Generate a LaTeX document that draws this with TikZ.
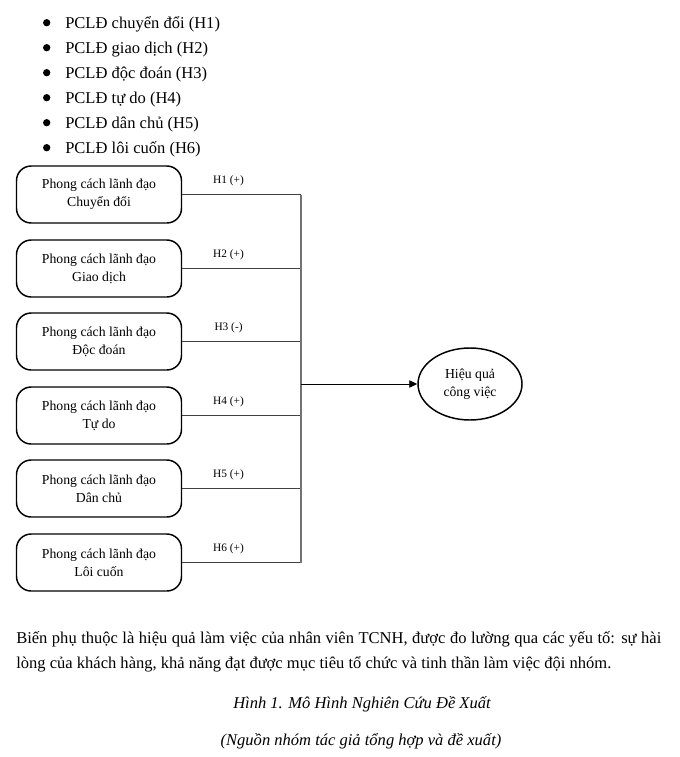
\documentclass[tikz,border=0pt]{standalone}
\usepackage{fontspec}
\setmainfont{Liberation Serif}
\usetikzlibrary{positioning,shapes,arrows.meta}

\begin{document}
\begin{tikzpicture}[x=0.75pt,y=-0.75pt,
                     lead node/.style={draw,line width=1.1pt,rounded corners=11pt,minimum width=123.75pt,minimum height=42.75pt,align=center,font=\fontsize{10.3}{13.5}\selectfont},
                     result node/.style={ellipse,draw,line width=1.1pt,minimum width=78pt,minimum height=54pt,align=center,inner sep=1pt,font=\fontsize{10.3}{13.5}\selectfont},
                     item dot/.style={circle,fill,inner sep=0pt,minimum size=5.5pt},
                     item text/.style={anchor=base west,inner sep=0pt,font=\fontsize{12.4}{15}\selectfont},
                     body text/.style={anchor=base west,inner sep=0pt,font=\fontsize{12.4}{15}\selectfont},
                     link/.style={draw=black!75,line width=0.6pt},
                     hyp/.style={above,pos=0.39,yshift=2.5pt,font=\fontsize{8.5}{10}\selectfont}
                    ]
   \useasboundingbox (0,0) rectangle (680,757);
   % list of factors
   \node[item dot] (d1) at (46.7,22.7) {};
   \node[item dot] (d2) at (46.7,47.7) {};
   \node[item dot] (d3) at (46.7,72.7) {};
   \node[item dot] (d4) at (46.7,97.7) {};
   \node[item dot] (d5) at (46.7,122.7) {};
   \node[item dot] (d6) at (46.7,147.7) {};
   \node[item text] (i1) at (65,28) {PCLĐ chuyển đổi (H1)};
   \node[item text] (i2) at (65,53) {PCLĐ giao dịch (H2)};
   \node[item text] (i3) at (65,78) {PCLĐ độc đoán (H3)};
   \node[item text] (i4) at (65,103) {PCLĐ tự do (H4)};
   \node[item text] (i5) at (65,128) {PCLĐ dân chủ (H5)};
   \node[item text] (i6) at (65,153) {PCLĐ lôi cuốn (H6)};
   % leadership styles
   \node[lead node] (cd) at (99,194.5) {Phong cách lãnh đạo\\Chuyển đổi};
   \node[lead node] (gd) at (99,268.5) {Phong cách lãnh đạo\\Giao dịch};
   \node[lead node] (dd) at (99,341.5) {Phong cách lãnh đạo\\Độc đoán};
   \node[lead node] (td) at (99,415.5) {Phong cách lãnh đạo\\Tự do};
   \node[lead node] (dc) at (99,488.5) {Phong cách lãnh đạo\\Dân chủ};
   \node[lead node] (lc) at (99,562.5) {Phong cách lãnh đạo\\Lôi cuốn};
   \node[result node] (hq) at (470,384) {Hiệu quả\\công việc};
   \coordinate (bt) at (301,194.5);
   \coordinate (bb) at (301,562.5);
   \coordinate (bm) at (301,384);
   \path[link]%
     (cd.east) -- node[hyp] {H1 (+)} (cd.east -| bt)
     (gd.east) -- node[hyp] {H2 (+)} (gd.east -| bt)
     (dd.east) -- node[hyp] {H3 (-)} (dd.east -| bt)
     (td.east) -- node[hyp] {H4 (+)} (td.east -| bt)
     (dc.east) -- node[hyp] {H5 (+)} (dc.east -| bt)
     (lc.east) -- node[hyp] {H6 (+)} (lc.east -| bt);
   \draw[draw=black!55,line width=0.8pt] (bt) -- (bb);
   \draw[-{Triangle[length=6pt,width=5.5pt]},line width=0.7pt] (bm) -- (hq.west);
   % text below the figure
   \node[body text] (p1) at (16,643) {\makebox[483.75pt][s]{Biến phụ thuộc là hiệu quả làm việc của nhân viên TCNH, được đo lường qua các yếu tố: sự hài}};
   \node[body text] (p2) at (16,668) {lòng của khách hàng, khả năng đạt được mục tiêu tổ chức và tinh thần làm việc đội nhóm.};
   \node[body text,anchor=base,font=\fontsize{12.4}{15}\selectfont\itshape] (cap) at (362,708) {Hình 1. Mô Hình Nghiên Cứu Đề Xuất};
   \node[body text,anchor=base,font=\fontsize{12.4}{15}\selectfont\itshape] (src) at (361,745) {(Nguồn nhóm tác giả tổng hợp và đề xuất)};
\end{tikzpicture}
\end{document}
